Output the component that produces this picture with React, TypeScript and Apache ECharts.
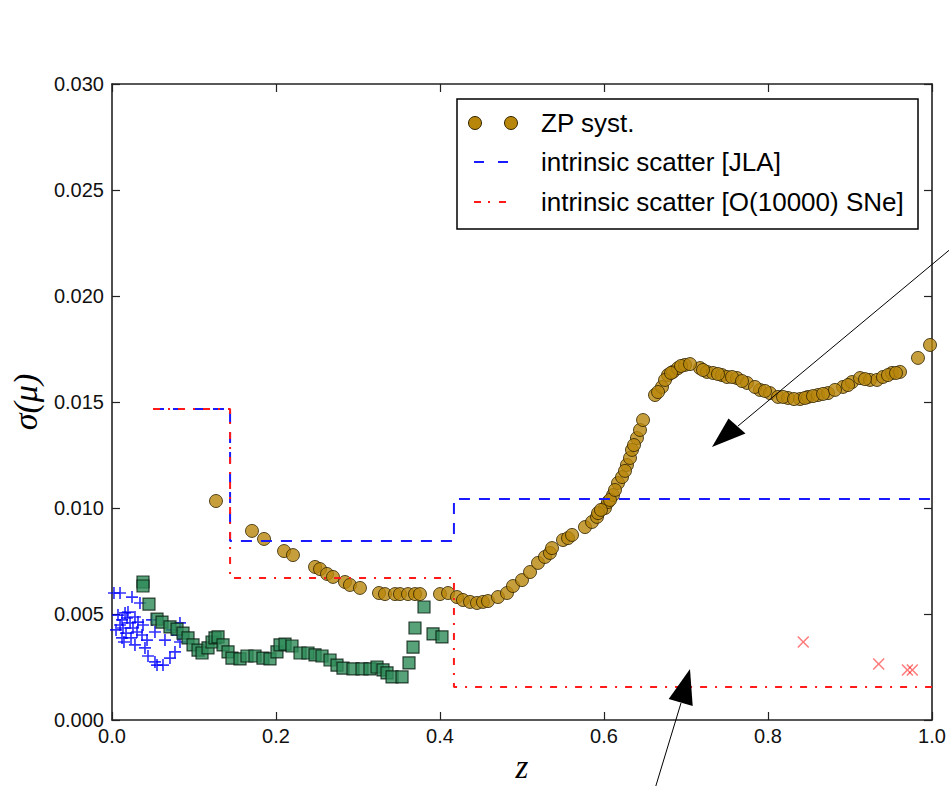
import React, { useEffect, useRef } from "react";
import * as echarts from "echarts";

// ---------- data ----------
const zpZ = [0.1268, 0.1707, 0.1854, 0.2098, 0.2207, 0.2476, 0.2537, 0.2622, 0.2695, 0.2841, 0.2902, 0.3024, 0.3256, 0.3329, 0.3451, 0.3512, 0.361, 0.3695, 0.3756, 0.4, 0.4098, 0.4207, 0.428, 0.4366, 0.4451, 0.4524, 0.4585, 0.4707, 0.4817, 0.489, 0.5, 0.5098, 0.5195, 0.528, 0.5341, 0.5366, 0.55, 0.5561, 0.561, 0.5768, 0.5854, 0.5915, 0.6012, 0.6049, 0.611, 0.6171, 0.622, 0.628, 0.6317, 0.6341, 0.6402, 0.6439, 0.6476, 0.6622, 0.6707, 0.678, 0.6841, 0.6902, 0.6988, 0.7171, 0.7256, 0.7329, 0.7439, 0.75, 0.7622, 0.7744, 0.7902, 0.8024, 0.8122, 0.8244, 0.839, 0.8488, 0.861, 0.8732, 0.8915, 0.9024, 0.9122, 0.9244, 0.9329, 0.9402, 0.9512, 0.961, 0.9829, 0.9976,
  0.5927, 0.5963, 0.6073, 0.6134, 0.6256, 0.6366, 0.6659, 0.6744, 0.6817, 0.6939, 0.7049, 0.7207, 0.739, 0.7561, 0.7683, 0.7841, 0.7963, 0.8183, 0.8317, 0.8451, 0.8549, 0.8671, 0.8817, 0.8976, 0.9183, 0.9463, 0.9561];
const zpSigma = [0.01033, 0.00892, 0.00854, 0.00797, 0.00778, 0.00722, 0.00712, 0.00689, 0.00675, 0.00651, 0.00637, 0.00623, 0.00599, 0.00594, 0.00594, 0.00594, 0.00594, 0.00594, 0.00594, 0.00594, 0.00599, 0.0058, 0.00566, 0.00557, 0.00552, 0.00557, 0.00561, 0.0058, 0.00599, 0.00632, 0.0066, 0.00698, 0.00741, 0.00769, 0.00788, 0.00811, 0.00849, 0.00858, 0.00873, 0.0091, 0.00934, 0.00958, 0.01, 0.01028, 0.01061, 0.01118, 0.01146, 0.01203, 0.01236, 0.01274, 0.0133, 0.01368, 0.01415, 0.01533, 0.01571, 0.01627, 0.01642, 0.0166, 0.01675, 0.0166, 0.01642, 0.01637, 0.01627, 0.01618, 0.01613, 0.0159, 0.01557, 0.01542, 0.01524, 0.01519, 0.01514, 0.01524, 0.01533, 0.01542, 0.01571, 0.01594, 0.01613, 0.01604, 0.01604, 0.01618, 0.01637, 0.01642, 0.01708, 0.01769,
  0.00976, 0.00991, 0.01038, 0.01085, 0.01175, 0.01297, 0.01547, 0.01604, 0.01637, 0.0167, 0.01679, 0.01651, 0.01632, 0.01618, 0.01599, 0.01571, 0.01552, 0.01524, 0.01514, 0.01519, 0.01528, 0.01538, 0.01557, 0.0158, 0.01608, 0.01627, 0.01637];

const sqZ = [0.0378, 0.0378, 0.0451, 0.0549, 0.061, 0.0707, 0.0793, 0.0866, 0.0927, 0.0988, 0.1049, 0.1098, 0.1171, 0.122, 0.1256, 0.1293, 0.1354, 0.1415, 0.1463, 0.1561, 0.1646, 0.1744, 0.1841, 0.1927, 0.2012, 0.2049, 0.211, 0.2195, 0.2293, 0.239, 0.2476, 0.2561, 0.2659, 0.2744, 0.2817, 0.2939, 0.3049, 0.3146, 0.3232, 0.3305, 0.3354, 0.3415, 0.3537, 0.3622, 0.3671, 0.3695, 0.3805, 0.3915, 0.4024];
const sqSigma = [0.00651, 0.00632, 0.00547, 0.00476, 0.00462, 0.00439, 0.00429, 0.0041, 0.00387, 0.00354, 0.0033, 0.00316, 0.0034, 0.00368, 0.00387, 0.00392, 0.00354, 0.00321, 0.00292, 0.00288, 0.00302, 0.00302, 0.00292, 0.00288, 0.00321, 0.00354, 0.00358, 0.00349, 0.00316, 0.00316, 0.00307, 0.00302, 0.00283, 0.00259, 0.00245, 0.00241, 0.00241, 0.00241, 0.0025, 0.00236, 0.00222, 0.00203, 0.00203, 0.00269, 0.00344, 0.00434, 0.00533, 0.00406, 0.00392];

const plusZ = [0.0024, 0.0098, 0.0244, 0.0341, 0.0195, 0.0159, 0.028, 0.0073, 0.0183, 0.0122, 0.0317, 0.022, 0.0378, 0.0488, 0.0098, 0.0134, 0.0256, 0.0049, 0.0305, 0.0171, 0.0524, 0.0366, 0.0122, 0.0232, 0.0427, 0.0646, 0.0146, 0.0732, 0.0829, 0.0805, 0.0829, 0.028, 0.0402, 0.0768, 0.0439, 0.0707, 0.0524, 0.0622, 0.0549];
const plusSigma = [0.00599, 0.00599, 0.0058, 0.00552, 0.00509, 0.00505, 0.00486, 0.00495, 0.00481, 0.00472, 0.00462, 0.00458, 0.00448, 0.00472, 0.00448, 0.00434, 0.00434, 0.00425, 0.00415, 0.0041, 0.00415, 0.00401, 0.00387, 0.00387, 0.00377, 0.00377, 0.00368, 0.00425, 0.00458, 0.00401, 0.00368, 0.00354, 0.0034, 0.00321, 0.00302, 0.00292, 0.00274, 0.00259, 0.00259];

const crossZ = [0.843, 0.935, 0.97, 0.976];
const crossSigma = [0.00368, 0.00264, 0.00236, 0.00236];

const jlaZ = [0.05, 0.144, 0.144, 0.417, 0.417, 1.0];
const jlaSigma = [0.01467, 0.01467, 0.00844, 0.00844, 0.01042, 0.01042];
const snZ = [0.05, 0.144, 0.144, 0.417, 0.417, 1.0];
const snSigma = [0.01467, 0.01467, 0.0067, 0.0067, 0.00156, 0.00156];

const legendLabels = ["ZP syst.", "intrinsic scatter [JLA]", "intrinsic scatter [O(10000) SNe]"];
const xName = "z";
const yName = "σ(μ)";

const zip = (a: number[], b: number[]) => a.map((v, i) => [v, b[i]]);

const PLUS = "path://M43,0H57V43H100V57H57V100H43V57H0V43H43Z";
const CROSS = "path://M0,9L9,0L50,41L91,0L100,9L59,50L100,91L91,100L50,59L9,100L0,91L41,50Z";

export default function App() {
  const ref = useRef<HTMLDivElement>(null);
  useEffect(() => {
    if (!ref.current) return;
    const chart = echarts.init(ref.current, null, { renderer: "svg" });
    const font = "'Liberation Sans', Arial, sans-serif";
    const serif = "'Liberation Serif', 'DejaVu Serif', serif";
    const axisLine = { show: true, onZero: false, lineStyle: { color: "#222", width: 1.6 } };
    const tick = { show: true, inside: true, length: 8, lineStyle: { color: "#222", width: 1.2 } };
    const gold = "#b8860b";
    chart.setOption({
      animation: false,
      grid: { left: 112, top: 84, right: 17, bottom: 66, containLabel: false, outerBoundsMode: "none" },
      xAxis: [
        {
          type: "value", min: 0, max: 1, interval: 0.2, position: "bottom",
          axisLine, axisTick: tick, splitLine: { show: false },
          axisLabel: { color: "#111", fontSize: 20, fontFamily: font, margin: 6, formatter: (v: number) => v.toFixed(1) },
          name: xName, nameLocation: "middle", nameGap: 28,
          nameTextStyle: { fontFamily: serif, fontStyle: "italic", fontSize: 33, color: "#000" },
        },
        {
          type: "value", min: 0, max: 1, interval: 0.2, position: "top",
          axisLine, axisTick: tick, splitLine: { show: false }, axisLabel: { show: false },
        },
      ],
      yAxis: [
        {
          type: "value", min: 0, max: 0.03, interval: 0.005, position: "left",
          axisLine, axisTick: tick, splitLine: { show: false },
          axisLabel: { color: "#111", fontSize: 20, fontFamily: font, margin: 8, formatter: (v: number) => v.toFixed(3) },
          name: yName, nameLocation: "middle", nameGap: 70, nameRotate: 90,
          nameTextStyle: { fontFamily: serif, fontStyle: "italic", fontSize: 34, color: "#000" },
        },
        {
          type: "value", min: 0, max: 0.03, interval: 0.005, position: "right",
          axisLine, axisTick: tick, splitLine: { show: false }, axisLabel: { show: false },
        },
      ],
      series: [
        {
          type: "scatter", name: "plus", data: zip(plusZ, plusSigma), symbol: PLUS, symbolSize: 12,
          itemStyle: { color: "#0000ff" }, z: 2,
        },
        {
          type: "scatter", name: "squares", data: zip(sqZ, sqSigma), symbol: "rect", symbolSize: 12,
          itemStyle: { color: "#2e8b57", borderColor: "#081a0f", borderWidth: 1.2 }, z: 2,
        },
        {
          type: "scatter", name: legendLabels[0], data: zip(zpZ, zpSigma), symbol: "circle", symbolSize: 13,
          itemStyle: { color: gold, borderColor: "#2e2200", borderWidth: 1 }, z: 3,
        },
        {
          type: "scatter", name: "cross", data: zip(crossZ, crossSigma), symbol: CROSS, symbolSize: 12,
          itemStyle: { color: "rgba(255,0,0,0.65)" }, z: 3,
        },
        {
          type: "line", name: legendLabels[1], data: zip(jlaZ, jlaSigma), showSymbol: false, symbol: "none",
          lineStyle: { color: "#1a1aff", width: 2, type: [11, 9] }, z: 4,
        },
        {
          type: "line", name: legendLabels[2], data: zip(snZ, snSigma), showSymbol: false, symbol: "none",
          lineStyle: { color: "#ff1a1a", width: 2, type: [7, 8, 2, 8] }, z: 5,
        },
      ],
      graphic: [
        // legend
        { type: "rect", z: 100, shape: { x: 457, y: 99, width: 461, height: 130 }, style: { fill: "#fff", stroke: "#000", lineWidth: 1.5 } },
        { type: "circle", z: 101, shape: { cx: 475, cy: 123, r: 6.5 }, style: { fill: gold, stroke: "#2e2200", lineWidth: 1 } },
        { type: "circle", z: 101, shape: { cx: 511, cy: 123, r: 6.5 }, style: { fill: gold, stroke: "#2e2200", lineWidth: 1 } },
        { type: "line", z: 101, shape: { x1: 474, y1: 162, x2: 508, y2: 162 }, style: { stroke: "#1a1aff", lineWidth: 2, lineDash: [10, 14] } },
        { type: "line", z: 101, shape: { x1: 474, y1: 202, x2: 507, y2: 202 }, style: { stroke: "#ff1a1a", lineWidth: 2, lineDash: [7, 7, 2, 9] } },
        { type: "text", z: 101, x: 541, y: 123, style: { text: legendLabels[0], font: `26px ${font}`, fill: "#000", verticalAlign: "middle", align: "left" } },
        { type: "text", z: 101, x: 541, y: 162, style: { text: legendLabels[1], font: `26px ${font}`, fill: "#000", verticalAlign: "middle", align: "left" } },
        { type: "text", z: 101, x: 541, y: 202, style: { text: legendLabels[2], font: `26px ${font}`, fill: "#000", verticalAlign: "middle", align: "left" } },
        // arrows
        { type: "line", z: 90, shape: { x1: 965, y1: 237, x2: 738, y2: 426 }, style: { stroke: "#000", lineWidth: 1 } },
        { type: "polygon", z: 90, shape: { points: [[712, 447], [745.5, 433.5], [728.5, 418.5]] }, style: { fill: "#000" } },
        { type: "line", z: 90, shape: { x1: 654, y1: 792, x2: 681, y2: 703 }, style: { stroke: "#000", lineWidth: 1 } },
        { type: "polygon", z: 90, shape: { points: [[690, 669], [692.7, 706], [668.7, 699]] }, style: { fill: "#000" } },
      ],
    });
    return () => chart.dispose();
  }, []);
  return (
    <div
      ref={ref}
      style={{ position: "fixed", left: 0, top: 0, width: 949, height: 786, background: "#fff" }}
    />
  );
}
